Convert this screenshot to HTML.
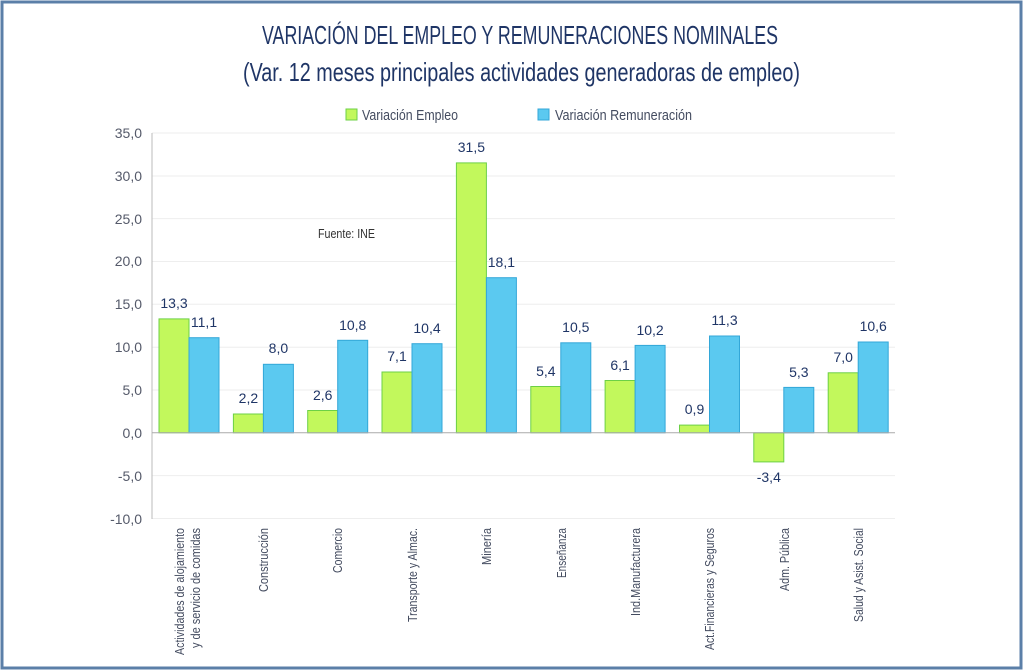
<!DOCTYPE html>
<html><head><meta charset="utf-8"><style>
html,body{margin:0;padding:0;background:#fff;}
svg{display:block;font-family:"Liberation Sans Narrow","Liberation Sans",sans-serif;}
</style></head><body>
<svg width="1024" height="671" viewBox="0 0 1024 671" xmlns="http://www.w3.org/2000/svg">
<rect x="2" y="2" width="1019" height="666" fill="#fff" stroke="#5b7fa8" stroke-width="3"/>
<text x="262" y="44" font-size="26" fill="#1f3566" textLength="516" lengthAdjust="spacingAndGlyphs">VARIACIÓN DEL EMPLEO Y REMUNERACIONES NOMINALES</text>
<text x="243" y="81" font-size="26" fill="#1f3566" textLength="557" lengthAdjust="spacingAndGlyphs">(Var. 12 meses principales actividades generadoras de empleo)</text>
<rect x="346" y="109" width="11" height="11" fill="#c2f85c" stroke="#6cd046"/>
<text x="362" y="120" font-size="15" fill="#444c60" textLength="96" lengthAdjust="spacingAndGlyphs">Variación Empleo</text>
<rect x="538" y="109" width="11" height="11" fill="#5bc9f0" stroke="#33a7d8"/>
<text x="555" y="120" font-size="15" fill="#444c60" textLength="137" lengthAdjust="spacingAndGlyphs">Variación Remuneración</text>
<g stroke="#eeeeee" stroke-width="1">
<line x1="152" y1="133" x2="895" y2="133"/><line x1="152" y1="176" x2="895" y2="176"/>
<line x1="152" y1="218.6" x2="895" y2="218.6"/><line x1="152" y1="261.5" x2="895" y2="261.5"/>
<line x1="152" y1="304.3" x2="895" y2="304.3"/><line x1="152" y1="347.2" x2="895" y2="347.2"/>
<line x1="152" y1="390" x2="895" y2="390"/><line x1="152" y1="475.6" x2="895" y2="475.6"/>
<line x1="152" y1="518.5" x2="895" y2="518.5"/>
</g>
<line x1="152" y1="133" x2="152" y2="519" stroke="#bbb"/>
<g font-size="14" fill="#555a6a" text-anchor="end">
<text x="142" y="138">35,0</text><text x="142" y="181">30,0</text><text x="142" y="224">25,0</text>
<text x="142" y="266">20,0</text><text x="142" y="309">15,0</text><text x="142" y="352">10,0</text>
<text x="142" y="395">5,0</text><text x="142" y="438">0,0</text><text x="142" y="481">-5,0</text>
<text x="142" y="524">-10,0</text>
</g>
<text x="318" y="238" font-size="13" fill="#333" textLength="57" lengthAdjust="spacingAndGlyphs">Fuente: INE</text>
<g fill="#c2f85c" stroke="#6cd046">
<rect x="159" y="318.9" width="30" height="113.9"/><rect x="233.4" y="414" width="30" height="18.8"/>
<rect x="307.7" y="410.5" width="30" height="22.3"/><rect x="382" y="372" width="30" height="60.8"/>
<rect x="456.4" y="162.9" width="30" height="269.9"/><rect x="530.8" y="386.5" width="30" height="46.3"/>
<rect x="605.1" y="380.5" width="30" height="52.3"/><rect x="679.5" y="425.1" width="30" height="7.7"/>
<rect x="753.8" y="432.8" width="30" height="29.1"/><rect x="828.2" y="372.8" width="30" height="60"/>
</g>
<g fill="#5bc9f0" stroke="#33a7d8">
<rect x="189" y="337.7" width="30" height="95.1"/><rect x="263.4" y="364.3" width="30" height="68.5"/>
<rect x="337.7" y="340.3" width="30" height="92.5"/><rect x="412" y="343.7" width="30" height="89.1"/>
<rect x="486.4" y="277.7" width="30" height="155.1"/><rect x="560.8" y="342.8" width="30" height="90"/>
<rect x="635.1" y="345.4" width="30" height="87.4"/><rect x="709.5" y="336" width="30" height="96.8"/>
<rect x="783.8" y="387.4" width="30" height="45.4"/><rect x="858.2" y="342" width="30" height="90.8"/>
</g>
<line x1="152" y1="432.8" x2="895" y2="432.8" stroke="#aaa"/>
<g font-size="14" fill="#1f3566" text-anchor="middle">
<text x="174" y="308">13,3</text><text x="204" y="327">11,1</text>
<text x="248.4" y="403">2,2</text><text x="278.4" y="353">8,0</text>
<text x="322.7" y="400">2,6</text><text x="352.7" y="330">10,8</text>
<text x="397" y="361">7,1</text><text x="427" y="333">10,4</text>
<text x="471.4" y="152">31,5</text><text x="501.4" y="267">18,1</text>
<text x="545.8" y="376">5,4</text><text x="575.8" y="332">10,5</text>
<text x="620.1" y="370">6,1</text><text x="650.1" y="335">10,2</text>
<text x="694.5" y="414">0,9</text><text x="724.5" y="325">11,3</text>
<text x="768.8" y="482">-3,4</text><text x="798.8" y="377">5,3</text>
<text x="843.2" y="362">7,0</text><text x="873.2" y="331">10,6</text>
</g>
<g font-size="13" fill="#444c60" text-anchor="end">
<text transform="translate(184,528) rotate(-90)" textLength="127" lengthAdjust="spacingAndGlyphs">Actividades de alojamiento</text>
<text transform="translate(200,528) rotate(-90)" textLength="120" lengthAdjust="spacingAndGlyphs">y de servicio de comidas</text>
<text transform="translate(268,528) rotate(-90)" textLength="64" lengthAdjust="spacingAndGlyphs">Construcción</text>
<text transform="translate(342,528) rotate(-90)" textLength="45" lengthAdjust="spacingAndGlyphs">Comercio</text>
<text transform="translate(417,528) rotate(-90)" textLength="94" lengthAdjust="spacingAndGlyphs">Transporte y Almac.</text>
<text transform="translate(491,528) rotate(-90)" textLength="37" lengthAdjust="spacingAndGlyphs">Minería</text>
<text transform="translate(566,528) rotate(-90)" textLength="50" lengthAdjust="spacingAndGlyphs">Enseñanza</text>
<text transform="translate(640,528) rotate(-90)" textLength="88" lengthAdjust="spacingAndGlyphs">Ind.Manufacturera</text>
<text transform="translate(714,528) rotate(-90)" textLength="122" lengthAdjust="spacingAndGlyphs">Act.Financieras y Seguros</text>
<text transform="translate(789,528) rotate(-90)" textLength="63" lengthAdjust="spacingAndGlyphs">Adm. Pública</text>
<text transform="translate(863,528) rotate(-90)" textLength="94" lengthAdjust="spacingAndGlyphs">Salud y Asist. Social</text>
</g>
</svg>
</body></html>
